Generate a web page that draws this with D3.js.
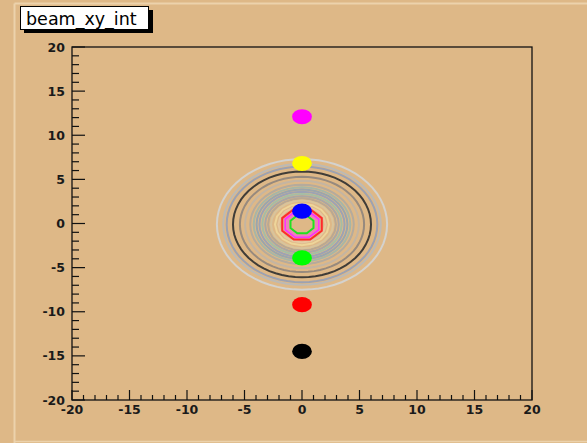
<!DOCTYPE html>
<html><head><meta charset="utf-8">
<script src="https://cdn.jsdelivr.net/npm/d3@7"></script>
<style>html,body{margin:0;padding:0;background:#deb887;}svg{display:block;}</style>
</head><body>
<script>
// ---- data ----
const title = "beam_xy_int";
const xDomain = [-20, 20];
const yDomain = [-20, 20];
const xTickLabels = [-20, -15, -10, -5, 0, 5, 10, 15, 20];
const yTickLabels = [-20, -15, -10, -5, 0, 5, 10, 15, 20];
// contour rings: radius (data units), colour, number of polygon sides
const ringRadius = [7.4, 6.85, 6.55, 6.0, 5.4, 4.95, 4.5, 4.2, 3.95, 3.7, 3.45, 3.2, 2.95, 2.7, 2.35, 2.05, 1.72, 1.45, 1.22, 1.0];
const ringColor  = ["#d4d2ce", "#bdbab4", "#9ea2b0", "#403c38", "#978a7e", "#c4b5a2", "#b5ab9d", "#a7b6a6", "#9aa6ad", "#9da3b4", "#a5bda5", "#aaa7a4", "#b9a893", "#d8c49c", "#eed59a", "#e6c9a0", "#ff2a2a", "#ff30ff", "#f27cc0", "#22e022"];
const ringSides  = [64, 64, 64, 64, 64, 48, 48, 40, 40, 40, 32, 32, 24, 24, 16, 16, 8, 8, 8, 8];
// points along x = 0
const dotX = [0, 0, 0, 0, 0, 0];
const dotY = [12.1, 6.8, 1.4, -3.9, -9.2, -14.5];
const dotColor = ["#ff00ff", "#ffff00", "#0000ff", "#00ff00", "#ff0000", "#000000"];
const dotRadius = 0.86;

// ---- layout ----
const W = 587, H = 443;
const svg = d3.select("body").append("svg").attr("width", W).attr("height", H);
const defs = svg.append("defs");
defs.append("filter").attr("id", "soft").append("feGaussianBlur").attr("stdDeviation", 0.45);
svg.append("rect").attr("width", W).attr("height", H).attr("fill", "#deb887");
// canvas border highlights
svg.append("line").attr("x1", 14.5).attr("x2", W).attr("y1", 3.5).attr("y2", 3.5).attr("stroke", "#ecd2ac").attr("stroke-width", 2);
svg.append("line").attr("x1", 14.5).attr("x2", 14.5).attr("y1", 3.5).attr("y2", H).attr("stroke", "#ecd2ac").attr("stroke-width", 2);
svg.append("line").attr("x1", 14.5).attr("x2", W).attr("y1", 441.5).attr("y2", 441.5).attr("stroke", "#ecd2ac").attr("stroke-width", 1.5);

const x = d3.scaleLinear().domain(xDomain).range([72, 532]);
const y = d3.scaleLinear().domain(yDomain).range([400, 47]);

const plot = svg.append("g").attr("filter", "url(#soft)");
// contours
const line = d3.line().x(d => x(d[0])).y(d => y(d[1])).curve(d3.curveLinearClosed);
ringRadius.forEach((r, i) => {
  const n = ringSides[i];
  const off = n === 8 ? Math.PI / 8 : 0;
  const R = n === 8 ? r / Math.cos(Math.PI / 8) : r;
  const pts = d3.range(n).map(k => {
    const a = off + 2 * Math.PI * k / n;
    return [R * Math.cos(a), -0.1 + R * Math.sin(a)];
  });
  plot.append("path").attr("d", line(pts)).attr("fill", "none")
    .attr("stroke", ringColor[i]).attr("stroke-width", 2);
});
// dots
dotY.forEach((v, i) => {
  plot.append("ellipse")
    .attr("cx", x(dotX[i])).attr("cy", y(v))
    .attr("rx", x(dotRadius) - x(0)).attr("ry", y(0) - y(dotRadius))
    .attr("fill", dotColor[i]);
});

// frame
svg.append("rect").attr("x", 72).attr("y", 47).attr("width", 460).attr("height", 353)
  .attr("fill", "none").attr("stroke", "#111").attr("stroke-width", 1.3);

// axis ticks
const ax = svg.append("g").attr("stroke", "#111").attr("stroke-width", 1.2);
d3.range(xDomain[0], xDomain[1] + 1).forEach(v => {
  const major = v % 5 === 0;
  ax.append("line").attr("x1", x(v)).attr("x2", x(v)).attr("y1", 400).attr("y2", 400 - (major ? 10 : 5));
});
d3.range(yDomain[0], yDomain[1] + 1).forEach(v => {
  const major = v % 5 === 0;
  ax.append("line").attr("y1", y(v)).attr("y2", y(v)).attr("x1", 72).attr("x2", 72 + (major ? 13 : 7));
});
const font = "'DejaVu Sans', sans-serif";
svg.append("g").selectAll("text").data(xTickLabels).join("text")
  .attr("x", d => x(d)).attr("y", 413.5).attr("text-anchor", "middle")
  .attr("font-family", font).attr("font-size", 12.5).attr("font-weight", "bold").attr("fill", "#1a1a1a")
  .text(d => d);
svg.append("g").selectAll("text").data(yTickLabels).join("text")
  .attr("x", 65).attr("y", d => y(d) + 4.5).attr("text-anchor", "end")
  .attr("font-family", font).attr("font-size", 12.5).attr("font-weight", "bold").attr("fill", "#1a1a1a")
  .text(d => d);

// title box
svg.append("rect").attr("x", 24).attr("y", 10).attr("width", 129).attr("height", 23).attr("fill", "#000");
svg.append("rect").attr("x", 20.5).attr("y", 6.5).attr("width", 128).attr("height", 23)
  .attr("fill", "#fff").attr("stroke", "#000").attr("stroke-width", 1);
svg.append("text").attr("x", 26).attr("y", 24.5).attr("font-family", font).attr("font-size", 17.5)
  .attr("fill", "#000").text(title);
</script>
</body></html>
